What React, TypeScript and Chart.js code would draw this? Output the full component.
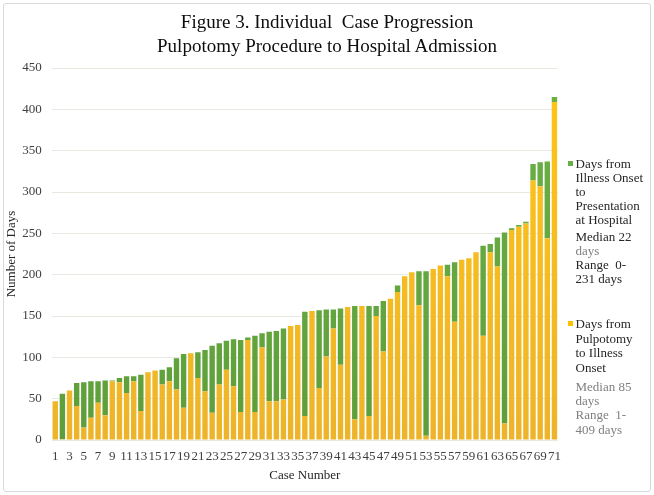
import React, { useEffect, useRef } from 'react';
import { Chart, registerables } from 'chart.js';

Chart.register(...registerables);

const caseNumbers = [
  '1', '2', '3', '4', '5', '6', '7', '8', '9', '10',
  '11', '12', '13', '14', '15', '16', '17', '18', '19', '20',
  '21', '22', '23', '24', '25', '26', '27', '28', '29', '30',
  '31', '32', '33', '34', '35', '36', '37', '38', '39', '40',
  '41', '42', '43', '44', '45', '46', '47', '48', '49', '50',
  '51', '52', '53', '54', '55', '56', '57', '58', '59', '60',
  '61', '62', '63', '64', '65', '66', '67', '68', '69', '70', '71',
];

// Days from Pulpotomy to Illness Onset (yellow, bottom)
const daysPulpotomyToOnset = [
  47, 1, 60, 41, 15, 27, 45, 30, 71, 70,
  57, 71, 35, 82, 84, 67, 71, 61, 39, 105,
  75, 59, 33, 67, 85, 65, 34, 121, 34, 112,
  47, 47, 49, 138, 139, 29, 156, 63, 101, 135,
  91, 161, 25, 162, 29, 150, 107, 171, 179, 198,
  203, 163, 5, 207, 211, 198, 143, 218, 220, 227,
  126, 227, 210, 20, 254, 258, 262, 314, 307, 244, 409,
];

// Days from Illness Onset to Presentation at Hospital (green, top)
const daysOnsetToPresentation = [
  0, 55, 0, 28, 55, 44, 26, 42, 1, 5,
  20, 6, 44, 0, 0, 18, 17, 38, 65, 0,
  31, 50, 81, 50, 35, 57, 87, 3, 92, 17,
  84, 85, 86, 0, 0, 126, 0, 94, 57, 23,
  68, 0, 137, 0, 133, 12, 61, 0, 8, 0,
  0, 41, 199, 0, 0, 14, 72, 0, 0, 0,
  109, 10, 35, 231, 2, 2, 2, 20, 29, 93, 6,
];

const yMax = 450;
const yStep = 50;

const titleLines = [
  'Figure 3. Individual  Case Progression',
  'Pulpotomy Procedure to Hospital Admission',
];

const SERIF = '"Liberation Serif", "Times New Roman", serif';

function gradient(chart: any, top: string, bottom: string, fallback: string) {
  const area = chart.chartArea;
  if (!area) return fallback;
  const g = chart.ctx.createLinearGradient(0, area.top, 0, area.bottom);
  g.addColorStop(0, top);
  g.addColorStop(1, bottom);
  return g;
}

type LegendLine = { text: string; y: number; color: string };

const greenLegend: LegendLine[] = [
  { text: 'Days from', y: 164, color: '#262626' },
  { text: 'Illness Onset', y: 178, color: '#262626' },
  { text: 'to', y: 192, color: '#262626' },
  { text: 'Presentation', y: 206, color: '#262626' },
  { text: 'at Hospital', y: 220, color: '#262626' },
  { text: 'Median 22', y: 237, color: '#262626' },
  { text: 'days', y: 251, color: '#808080' },
  { text: 'Range  0-', y: 265, color: '#262626' },
  { text: '231 days', y: 279, color: '#262626' },
];

const yellowLegend: LegendLine[] = [
  { text: 'Days from', y: 324, color: '#262626' },
  { text: 'Pulpotomy', y: 339, color: '#262626' },
  { text: 'to Illness', y: 353, color: '#262626' },
  { text: 'Onset', y: 368, color: '#262626' },
  { text: 'Median 85', y: 387, color: '#808080' },
  { text: 'days', y: 401, color: '#808080' },
  { text: 'Range  1-', y: 415, color: '#808080' },
  { text: '409 days', y: 430, color: '#808080' },
];

export default function App() {
  const canvasRef = useRef<HTMLCanvasElement | null>(null);

  useEffect(() => {
    if (!canvasRef.current) return;
    const chart = new Chart(canvasRef.current, {
      type: 'bar',
      data: {
        labels: caseNumbers,
        datasets: [
          {
            label: 'Days from Pulpotomy to Illness Onset',
            data: daysPulpotomyToOnset,
            backgroundColor: (ctx: any) => gradient(ctx.chart, '#FFC516', '#EDB42A', '#FFC000'),
            borderWidth: 0,
            barPercentage: 0.76,
            categoryPercentage: 1,
            stack: 's',
          },
          {
            label: 'Days from Illness Onset to Presentation at Hospital',
            data: daysOnsetToPresentation,
            backgroundColor: (ctx: any) => gradient(ctx.chart, '#6CB246', '#5E9E3A', '#68A843'),
            borderWidth: 0,
            barPercentage: 0.76,
            categoryPercentage: 1,
            stack: 's',
          },
        ],
      },
      options: {
        animation: false,
        responsive: false,
        maintainAspectRatio: false,
        devicePixelRatio: 1,
        layout: { padding: { left: 4, right: 96, top: 68, bottom: 6 } },
        plugins: {
          legend: { display: false },
          title: { display: false },
          tooltip: { enabled: false },
        },
        scales: {
          x: {
            stacked: true,
            grid: { display: false },
            border: { display: false },
            ticks: {
              autoSkip: false,
              maxRotation: 0,
              minRotation: 0,
              padding: 1,
              color: '#404040',
              font: { family: SERIF, size: 13 },
              callback: (_v: any, i: number) => (i % 2 === 0 ? caseNumbers[i] : ''),
            },
            title: {
              display: true,
              text: 'Case Number',
              color: '#262626',
              font: { family: SERIF, size: 13 },
              padding: { top: 2, bottom: 6 },
            },
            afterFit: (scale: any) => {
              scale.height = 49;
            },
          },
          y: {
            stacked: true,
            min: 0,
            max: yMax,
            grid: { color: '#E9E9E2', lineWidth: 1, drawTicks: false },
            border: { display: false },
            ticks: {
              stepSize: yStep,
              padding: 10,
              color: '#404040',
              font: { family: SERIF, size: 13 },
            },
            title: {
              display: true,
              text: 'Number of Days',
              color: '#262626',
              font: { family: SERIF, size: 13 },
              padding: { top: 0, bottom: 0 },
            },
            afterFit: (scale: any) => {
              scale.width = 47.7;
            },
          },
        },
      },
    });
    return () => chart.destroy();
  }, []);

  return (
    <div
      style={{
        position: 'fixed',
        left: 0,
        top: 0,
        width: 654,
        height: 495,
        background: '#ffffff',
        overflow: 'hidden',
      }}
    >
      <div
        style={{
          position: 'absolute',
          left: 3,
          top: 3,
          width: 646,
          height: 487,
          border: '1px solid #D9D9D9',
          borderRadius: 3,
          boxSizing: 'content-box',
        }}
      />
      <canvas
        ref={canvasRef}
        width={654}
        height={495}
        style={{ position: 'absolute', left: 0, top: 0, width: 654, height: 495 }}
      />
      {titleLines.map((t, i) => (
        <div
          key={'t' + i}
          style={{
            position: 'absolute',
            left: 0,
            width: 654,
            top: 22 + i * 24 - 12,
            height: 24,
            lineHeight: '24px',
            textAlign: 'center',
            fontFamily: SERIF,
            fontSize: 19,
            color: '#0D0D0D',
            whiteSpace: 'pre',
          }}
        >
          {t}
        </div>
      ))}
      <div
        style={{
          position: 'absolute',
          left: 568,
          top: 161,
          width: 5,
          height: 5,
          background: '#68AE43',
        }}
      />
      <div
        style={{
          position: 'absolute',
          left: 568,
          top: 321,
          width: 5,
          height: 5,
          background: '#FFC000',
        }}
      />
      {[...greenLegend, ...yellowLegend].map((l, i) => (
        <div
          key={'l' + i}
          style={{
            position: 'absolute',
            left: 575.5,
            top: l.y - 8,
            height: 16,
            lineHeight: '16px',
            fontFamily: SERIF,
            fontSize: 13,
            color: l.color,
            whiteSpace: 'pre',
          }}
        >
          {l.text}
        </div>
      ))}
    </div>
  );
}
